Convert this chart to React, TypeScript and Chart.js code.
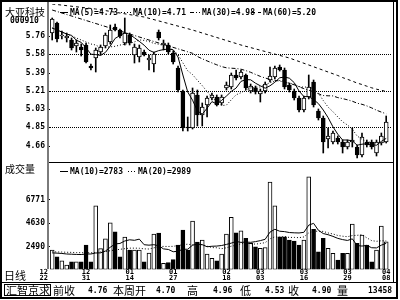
import { useEffect, useRef } from "react";
import { Chart, registerables } from "chart.js";

Chart.register(...registerables);

// ---------- data ----------
const OPEN = [5.79,5.89,5.76,5.74,5.72,5.66,5.65,5.67,5.46,5.54, 5.60,5.66,5.70,5.85,5.82,5.69,5.77,5.57,5.55,5.60, 5.52,5.48,5.80,5.67,5.67,5.59,5.44,5.21,4.85,4.84, 5.17,4.97,5.07,5.14,5.15,5.09,5.24,5.25,5.37,5.35, 5.37,5.21,5.24,5.18,5.21,5.32,5.35,5.45,5.42,5.27, 5.21,5.14,5.02,5.15,5.30,5.01,4.94,4.73,4.70,4.74, 4.70,4.65,4.70,4.65,4.57,4.70,4.70,4.59,4.69,4.70];
const HIGH = [5.94,5.90,5.81,5.79,5.74,5.72,5.68,5.69,5.48,5.64, 5.67,5.79,5.87,5.88,5.83,5.94,5.79,5.68,5.67,5.62, 5.57,5.60,5.82,5.72,5.69,5.61,5.46,5.22,4.95,5.24, 5.22,5.09,5.16,5.19,5.17,5.17,5.30,5.39,5.42,5.42, 5.38,5.28,5.26,5.23,5.30,5.45,5.46,5.47,5.44,5.29, 5.23,5.16,5.16,5.37,5.32,5.03,4.96,4.84,4.81,4.76, 4.72,4.72,4.84,4.67,4.79,4.72,4.72,4.72,4.79,4.96];
const LOW = [5.72,5.70,5.73,5.70,5.62,5.60,5.56,5.49,5.42,5.40, 5.57,5.64,5.68,5.81,5.74,5.67,5.67,5.49,5.50,5.56, 5.42,5.40,5.72,5.62,5.58,5.48,5.20,4.81,4.81,4.83, 4.86,4.86,4.95,5.12,5.06,5.07,5.22,5.23,5.32,5.33, 5.22,5.19,5.18,5.10,5.19,5.30,5.33,5.41,5.23,5.20, 5.12,5.00,5.00,5.13,5.05,4.92,4.59,4.64,4.68,4.68, 4.59,4.63,4.65,4.54,4.55,4.65,4.63,4.56,4.67,4.69];
const CLOSE = [5.93,5.73,5.77,5.76,5.64,5.69,5.62,5.50,5.44,5.62, 5.65,5.77,5.82,5.82,5.76,5.79,5.69,5.65,5.64,5.57, 5.54,5.58,5.74,5.69,5.60,5.50,5.22,4.84,4.84,5.19, 4.97,5.05,5.14,5.17,5.07,5.15,5.27,5.37,5.34,5.40, 5.24,5.26,5.20,5.21,5.28,5.36,5.44,5.42,5.25,5.22, 5.14,5.02,5.14,5.25,5.07,4.94,4.70,4.76,4.79,4.70, 4.65,4.70,4.72,4.57,4.75,4.67,4.65,4.70,4.76,4.90];

const VOLUME = [2170,1550,1180,790,1090,1090,1090,2630,1090,6240, 2300,3200,4680,3850,1550,3360,2170,2170,2170,1090, 1890,3640,3730,940,1000,1280,2630,4010,2170,4840, 2900,3090,1800,1400,1180,1800,3640,5180,3760,3940, 3250,2780,2470,2320,2400,8420,6240,3390,3390,3090, 3000,2630,3090,8910,4070,2010,3250,2320,1860,1250, 1860,1860,4560,2780,3550,2630,1090,2170,4380,2930];

const MA5 = [5.84,5.82,5.80,5.78,5.766,5.718,5.696,5.642,5.578,5.574, 5.566,5.596,5.660,5.736,5.764,5.792,5.776,5.742,5.706,5.668, 5.618,5.596,5.614,5.624,5.630,5.622,5.550,5.370,5.200,5.118, 5.012,4.978,5.038,5.104,5.080,5.116,5.160,5.206,5.240,5.306, 5.324,5.322,5.288,5.262,5.238,5.262,5.298,5.342,5.350,5.338, 5.294,5.210,5.154,5.154,5.124,5.084,5.020,4.944,4.852,4.778, 4.720,4.720,4.712,4.668,4.678,4.682,4.672,4.668,4.706,4.736];
const MA10 = [5.84,5.82,5.80,5.78,5.76,5.74,5.72,5.70,5.68,5.670, 5.642,5.646,5.651,5.657,5.669,5.679,5.686,5.701,5.721,5.716, 5.705,5.686,5.678,5.665,5.649,5.620,5.573,5.492,5.412,5.374, 5.317,5.264,5.204,5.152,5.099,5.064,5.069,5.122,5.172,5.193, 5.220,5.241,5.247,5.251,5.272,5.293,5.310,5.315,5.306,5.288, 5.278,5.254,5.248,5.252,5.231,5.189,5.115,5.049,5.003,4.951, 4.902,4.870,4.828,4.760,4.728,4.701,4.696,4.690,4.687,4.707];
const MA30_AT = [0,10,20,29,30,31,32,33,34,35,36,37,38,39,40,41,42,43,44,45,46,47,48,49,50,51,52,53,54,55,56,57,58,59,60,61,62,63,64,65,66,67,68,69];
const MA30 = [6.02,5.87,5.72,5.587,5.555,5.532,5.511,5.491,5.472,5.454,5.442,5.438,5.435,5.428,5.414,5.397,5.376,5.356,5.340,5.326,5.317,5.310,5.297,5.285,5.272,5.253,5.233,5.219,5.201,5.182,5.165,5.162,5.161,5.144,5.134,5.122,5.108,5.088,5.077,5.061,5.041,5.018,4.999,4.982];
const MA60_AT = [0,9,19,29,39,49,59,60,61,62,63,64,65,66,67,68,69];
const MA60 = [6.08,6.03,5.95,5.82,5.67,5.54,5.365,5.344,5.327,5.309,5.289,5.275,5.258,5.242,5.228,5.217,5.205];

const VOL_MA10 = [1900,1880,1850,1800,1780,1760,1750,1800,1800,1892, 1905,2070,2420,2726,2772,2999,3107,3061,3169,2654, 2613,2657,2562,2271,2216,2008,2054,2238,2238,2613, 2714,2659,2466,2512,2530,2582,2683,2800,2959,2869, 2904,2873,2940,3032,3154,3816,4076,3897,3860,3775, 3750,3735,3797,4456,4623,3982,3683,3576,3423,3239, 3125,3048,3195,2582,2530,2592,2376,2361,2613,2781];
const VOL_MA20 = [2000,1990,1980,1960,1950,1930,1920,1920,1910,1950, 1980,2030,2100,2180,2230,2290,2340,2340,2330,2273, 2259,2364,2491,2499,2494,2504,2581,2650,2704,2634, 2664,2658,2514,2392,2373,2295,2369,2519,2599,2741, 2809,2766,2703,2772,2842,3199,3380,3349,3410,3322, 3327,3304,3369,3744,3889,3899,3880,3737,3642,3507, 3438,3392,3496,3519,3577,3287,3030,2969,3018,3010];

const PRICE_TICKS = [4.66, 4.85, 5.03, 5.21, 5.39, 5.58, 5.76];
const PRICE_GRID = [4.85, 5.21, 5.58];
const VOL_TICKS = [2490, 4630, 6771];

const DATE_AT = [0, 7, 16, 25, 36, 43, 52, 61, 69];
const DATE_MONTH = ["12", "12", "01", "01", "02", "03", "03", "03", "04"];
const DATE_DAY = ["22", "31", "14", "27", "18", "03", "16", "29", "08"];

const PRICE_MA_LABELS = ["MA(5)", "MA(10)", "MA(30)", "MA(60)"];
const PRICE_MA_NOW = ["4.73", "4.71", "4.98", "5.20"];
const VOL_MA_LABELS = ["MA(10)", "MA(20)"];
const VOL_MA_NOW = ["2783", "2989"];

const STATUS_LABELS = ["前收", "本周开", "高", "低", "收", "量"];
const STATUS_VALUES = ["4.76", "4.70", "4.96", "4.53", "4.90", "13458"];

// ---------- styling / layout ----------
const MONO = '"DejaVu Sans Mono", monospace';
const CJK = '"Noto Sans CJK SC", sans-serif';
const X_MIN = -0.45;
const X_MAX = 70.2;
const DASH_MA5: number[] = [];
const DASH_MA10 = [1, 2];
const DASH_MA30 = [4, 2, 1, 2];
const DASH_MA60 = [3, 3];

function sample(ctx: CanvasRenderingContext2D, x0: number, x1: number, y: number, dash: number[]) {
  ctx.save();
  ctx.setLineDash(dash);
  ctx.strokeStyle = "#000";
  ctx.lineWidth = 1;
  ctx.beginPath();
  ctx.moveTo(x0, y);
  ctx.lineTo(x1, y);
  ctx.stroke();
  ctx.restore();
}

function drawFrame(ctx: CanvasRenderingContext2D) {
  ctx.fillStyle = "#000";
  ctx.fillRect(0, 0, 398, 2);
  ctx.fillRect(0, 0, 2, 299);
  ctx.fillRect(396, 0, 2, 299);
  ctx.fillRect(0, 297, 398, 2);
  ctx.fillRect(393, 2, 1, 280);
  ctx.fillRect(2, 282, 394, 1);
  ctx.fillRect(49, 162, 344, 1);
  ctx.fillStyle = "#7a7a7a";
  ctx.fillRect(47, 2, 2, 267);
}

function chromePlugin(offY: number, panel: "price" | "vol") {
  return {
    id: "chrome-" + panel,
    afterDraw(chart: any) {
      const ctx: CanvasRenderingContext2D = chart.ctx;
      ctx.save();
      ctx.translate(0, -offY);
      drawFrame(ctx);
      ctx.fillStyle = "#000";
      ctx.textBaseline = "middle";
      ctx.textAlign = "left";
      if (panel === "price") {
        ctx.font = `10px ${CJK}`;
        ctx.fillText("大亚科技", 5, 12.5);
        ctx.font = `bold 8px ${MONO}`;
        ctx.fillText("000910", 10, 21);
        const samples = [[60, 68], [121, 131], [190, 200], [252, 261]];
        const textX = [70, 133, 202, 263];
        const dashes = [DASH_MA5, DASH_MA10, DASH_MA30, DASH_MA60];
        PRICE_MA_LABELS.forEach((lab, k) => {
          sample(ctx, samples[k][0], samples[k][1], 12.5, dashes[k]);
          ctx.fillText(`${lab}=${PRICE_MA_NOW[k]}`, textX[k], 13);
        });
      } else {
        ctx.font = `10px ${CJK}`;
        ctx.fillText("成交量", 5, 169);
        ctx.font = `bold 8px ${MONO}`;
        const samples = [[60, 68], [128, 137]];
        const textX = [70, 138];
        const dashes = [DASH_MA5, DASH_MA10];
        VOL_MA_LABELS.forEach((lab, k) => {
          sample(ctx, samples[k][0], samples[k][1], 171.5, dashes[k]);
          ctx.fillText(`${lab}=${VOL_MA_NOW[k]}`, textX[k], 172);
        });
        ctx.font = `11px ${CJK}`;
        ctx.fillText("日线", 4, 276);
        // date labels
        const xs = chart.scales.x;
        ctx.font = `bold 7px ${MONO}`;
        ctx.textAlign = "center";
        DATE_AT.forEach((di, k) => {
          const w = Math.max(ctx.measureText(DATE_MONTH[k]).width, ctx.measureText(DATE_DAY[k]).width);
          let cx = xs.getPixelForValue(di);
          if (k === 0) cx = chart.chartArea.left - 2 - w / 2;
          if (cx + w / 2 > 393) cx = 393 - w / 2;
          ctx.fillText(DATE_MONTH[k], cx, 272.5);
          ctx.fillText(DATE_DAY[k], cx, 278);
        });
        // status bar
        ctx.textAlign = "left";
        ctx.lineWidth = 1;
        ctx.strokeStyle = "#000";
        ctx.strokeRect(4.5, 284.5, 46, 11);
        ctx.font = `11px ${CJK}`;
        ctx.fillText("汇智京求", 6, 290.5);
        const labX = [53, 113, 187, 240, 288, 337];
        const valX = [88, 156, 213, 265, 312, 368];
        STATUS_LABELS.forEach((lab, k) => {
          ctx.font = `11px ${CJK}`;
          ctx.fillText(lab, labX[k], 290.5);
          ctx.font = `bold 8px ${MONO}`;
          ctx.fillText(STATUS_VALUES[k], valX[k], 291);
        });
      }
      ctx.restore();
    },
  };
}

function yAxis(min: number, max: number, ticks: number[], grid: number[], fmt: (v: number) => string) {
  return {
    position: "left",
    min,
    max,
    afterFit: (s: any) => {
      s.width = 50;
      s.paddingTop = 0;
      s.paddingBottom = 0;
    },
    afterBuildTicks: (s: any) => {
      s.ticks = ticks.map((v) => ({ value: v }));
    },
    ticks: {
      autoSkip: false,
      padding: 2,
      color: "#000",
      font: { family: "DejaVu Sans Mono", size: 8, weight: "bold" },
      callback: (v: any) => fmt(Number(v)),
    },
    grid: {
      color: (c: any) => (c.tick && grid.includes(c.tick.value) ? "#000" : "rgba(0,0,0,0)"),
      lineWidth: 1,
      tickLength: 3,
      tickColor: "#000",
      tickWidth: 1,
      tickBorderDash: [],
    },
    border: { display: false, dash: [1, 1] },
  };
}

function lineDs(xs: number[], ys: number[], dash: number[]) {
  return {
    type: "line",
    data: ys.map((v, k) => ({ x: xs[k], y: v })),
    borderColor: "#000",
    borderWidth: 1,
    borderDash: dash,
    pointRadius: 0,
    tension: 0,
    fill: false,
    order: 0,
  };
}

export default function App() {
  const pRef = useRef<HTMLCanvasElement | null>(null);
  const vRef = useRef<HTMLCanvasElement | null>(null);

  useEffect(() => {
    const idx = CLOSE.map((_, i) => i);
    const up = idx.map((i) => CLOSE[i] >= OPEN[i]);
    const xAxis = { type: "linear", min: X_MIN, max: X_MAX, offset: false, display: false };

    const pc = new Chart(pRef.current as HTMLCanvasElement, {
      type: "bar",
      data: {
        datasets: [
          lineDs(idx, MA5, DASH_MA5),
          lineDs(idx, MA10, DASH_MA10),
          lineDs(MA30_AT, MA30, DASH_MA30),
          lineDs(MA60_AT, MA60, DASH_MA60),
          {
            type: "bar",
            data: idx.map((i) => ({ x: i, y: [Math.min(OPEN[i], CLOSE[i]), Math.max(OPEN[i], CLOSE[i])] })),
            backgroundColor: idx.map((i) => (up[i] ? "#fff" : "#000")),
            borderColor: "#000",
            borderWidth: 1,
            borderSkipped: false,
            barThickness: 4,
            grouped: false,
            order: 1,
          },
          {
            type: "bar",
            data: idx.map((i) => ({ x: i, y: [LOW[i], HIGH[i]] })),
            backgroundColor: "#000",
            borderWidth: 0,
            barThickness: 1,
            grouped: false,
            order: 2,
          },
        ] as any,
      },
      options: {
        animation: false,
        responsive: false,
        devicePixelRatio: 1,
        layout: { padding: { left: 0, right: 8, top: 4, bottom: 1 } },
        plugins: { legend: { display: false }, tooltip: { enabled: false } },
        scales: {
          x: xAxis as any,
          y: yAxis(4.48, 6.08, PRICE_TICKS, PRICE_GRID, (v) => v.toFixed(2)) as any,
        },
      },
      plugins: [chromePlugin(0, "price")],
    });

    const vc = new Chart(vRef.current as HTMLCanvasElement, {
      type: "bar",
      data: {
        datasets: [
          lineDs(idx, VOL_MA10, DASH_MA5),
          lineDs(idx, VOL_MA20, DASH_MA10),
          {
            type: "bar",
            data: idx.map((i) => ({ x: i, y: VOLUME[i] })),
            backgroundColor: idx.map((i) => (up[i] ? "#fff" : "#000")),
            borderColor: "#000",
            borderWidth: 1,
            borderSkipped: false,
            barThickness: 4,
            grouped: false,
            base: 373,
            order: 1,
          },
        ] as any,
      },
      options: {
        animation: false,
        responsive: false,
        devicePixelRatio: 1,
        layout: { padding: { left: 0, right: 8, top: 1, bottom: 30.5 } },
        plugins: { legend: { display: false }, tooltip: { enabled: false } },
        scales: {
          x: xAxis as any,
          y: yAxis(373, 9993, VOL_TICKS, [], (v) => String(Math.round(v))) as any,
        },
      },
      plugins: [chromePlugin(164, "vol")],
    });

    return () => {
      pc.destroy();
      vc.destroy();
    };
  }, []);

  return (
    <div style={{ position: "fixed", left: 0, top: 0, width: 400, height: 300, background: "#fff" }}>
      <canvas ref={pRef} width={400} height={165} style={{ position: "absolute", left: 0, top: 0 }} />
      <canvas ref={vRef} width={400} height={136} style={{ position: "absolute", left: 0, top: 164 }} />
    </div>
  );
}
